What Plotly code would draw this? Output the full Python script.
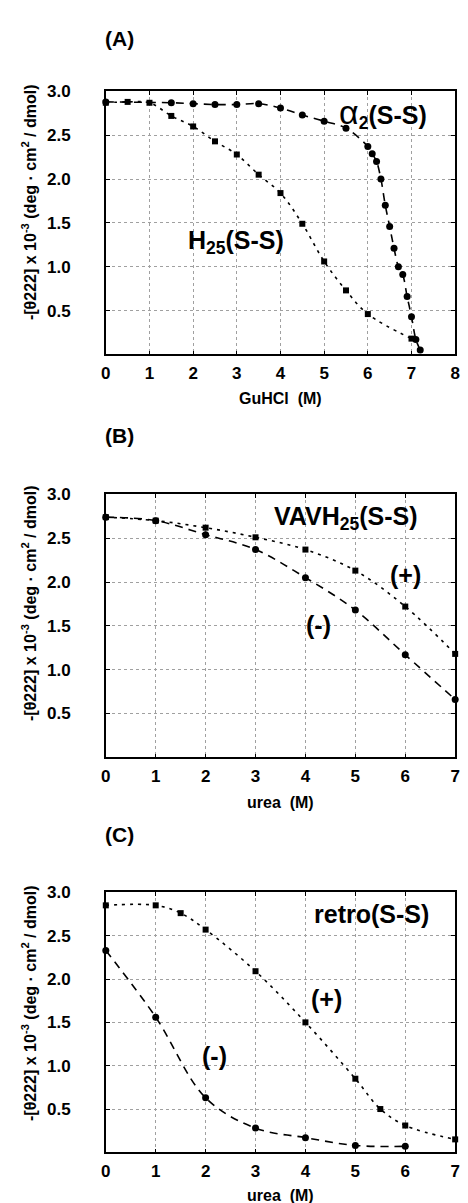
import plotly.graph_objects as go

W, H = 468, 1203

# ---------------- data ----------------
# Panel A : GuHCl denaturation
a_alpha_x = [0, 1.5, 2.0, 2.5, 3.0, 3.5, 4.0, 4.5, 5.0, 5.5, 6.0, 6.1, 6.2, 6.3, 6.4,
             6.5, 6.6, 6.7, 6.8, 6.9, 7.0, 7.1, 7.2]
a_alpha_y = [2.88, 2.87, 2.86, 2.85, 2.85, 2.86, 2.81, 2.73, 2.66, 2.58, 2.37, 2.29, 2.20,
             2.00, 1.70, 1.46, 1.21, 1.00, 0.91, 0.66, 0.43, 0.17, 0.05]
a_h25_x = [0, 0.5, 1.0, 1.5, 2.0, 2.5, 3.0, 3.5, 4.0, 4.5, 5.0, 5.5, 6.0, 7.0]
a_h25_y = [2.87, 2.88, 2.87, 2.72, 2.60, 2.43, 2.28, 2.05, 1.84, 1.49, 1.06, 0.73, 0.46, 0.18]

# Panel B : VAVH25(S-S) in urea
b_minus_x = [0, 1, 2, 3, 4, 5, 6, 7]
b_minus_y = [2.74, 2.70, 2.54, 2.37, 2.05, 1.68, 1.17, 0.66]
b_plus_x = [0, 1, 2, 3, 4, 5, 6, 7]
b_plus_y = [2.74, 2.70, 2.62, 2.51, 2.37, 2.13, 1.72, 1.18]

# Panel C : retro(S-S) in urea
c_plus_x = [0, 1, 1.5, 2, 3, 4, 5, 5.5, 6, 7]
c_plus_y = [2.85, 2.85, 2.76, 2.57, 2.09, 1.50, 0.85, 0.50, 0.31, 0.15]
c_minus_x = [0, 1, 2, 3, 4, 5, 6]
c_minus_y = [2.33, 1.56, 0.63, 0.28, 0.17, 0.08, 0.07]

y_ticks = [0.5, 1.0, 1.5, 2.0, 2.5, 3.0]
y_ticktext = ["0.5", "1.0", "1.5", "2.0", "2.5", "3.0"]
xa_ticks = [0, 1, 2, 3, 4, 5, 6, 7, 8]
xu_ticks = [0, 1, 2, 3, 4, 5, 6, 7]

ytitle = "-[θ222] x 10<sup>-3</sup> (deg · cm<sup>2</sup> / dmol)"

FONT = "Liberation Sans, Arial, Helvetica, sans-serif"

# ---------------- geometry (pixels) ----------------
def px_x(p):
    return p / W

def px_y(p):
    return 1 - p / H

panels = [
    dict(top=83, bottom=348),
    dict(top=489, bottom=754),
    dict(top=890, bottom=1152),
]
x_dom = [px_x(103), px_x(460)]

fig = go.Figure()

DASH = "8px,6px"
DOT = "3px,5px"


def add_series(xs, ys, axis, symbol, size, dash):
    fig.add_trace(go.Scatter(
        x=xs, y=ys, xaxis="x" + axis, yaxis="y" + axis,
        mode="lines+markers",
        line=dict(color="black", width=1.6, dash=dash, shape="spline", smoothing=1.0),
        marker=dict(symbol=symbol, size=size, color="black"),
        cliponaxis=False, showlegend=False, hoverinfo="skip",
    ))


add_series(a_h25_x, a_h25_y, "", "square", 6, DOT)
add_series(a_alpha_x, a_alpha_y, "", "circle", 7, DASH)
add_series(b_plus_x, b_plus_y, "2", "square", 6, DOT)
add_series(b_minus_x, b_minus_y, "2", "circle", 7, DASH)
add_series(c_plus_x, c_plus_y, "3", "square", 6, DOT)
add_series(c_minus_x, c_minus_y, "3", "circle", 7, DASH)

axis_common = dict(
    showline=True, linecolor="black", linewidth=1.5, mirror="ticks",
    ticks="inside", ticklen=4, tickwidth=1, tickcolor="black",
    showgrid=True, gridcolor="#a0a0a0", gridwidth=1, griddash="dot",
    zeroline=False,
    tickfont=dict(family=FONT, size=17, color="black", weight="bold"),
)

layout = dict(
    width=W, height=H,
    margin=dict(l=0, r=0, t=0, b=0),
    paper_bgcolor="white", plot_bgcolor="white",
    font=dict(family=FONT, color="black"),
    showlegend=False,
)

names = ["", "2", "3"]
xranges = [[0, 8], [0, 7], [0, 7]]
xticks = [xa_ticks, xu_ticks, xu_ticks]
for i, p in enumerate(panels):
    n = names[i]
    layout["xaxis" + n] = dict(
        axis_common, domain=x_dom, range=xranges[i], anchor="y" + n,
        tickvals=xticks[i], ticktext=[str(v) for v in xticks[i]],
        ticklabelstandoff=2,
    )
    layout["yaxis" + n] = dict(
        axis_common, domain=[px_y(p["bottom"]), px_y(p["top"])], range=[0, 3.0],
        anchor="x" + n, tickvals=y_ticks, ticktext=y_ticktext,
        ticklabelstandoff=30,
    )

fig.update_layout(**layout)


def bold(size):
    return dict(family=FONT, size=size, color="black", weight="bold")


ann = []
# panel labels
for lab, yc in [("(A)", 30), ("(B)", 430), ("(C)", 832)]:
    ann.append(dict(text=lab, xref="paper", yref="paper",
                    x=px_x(100), y=px_y(yc), xanchor="left", yanchor="middle",
                    showarrow=False, font=bold(21)))
# y titles
for yc in [194, 598, 1001]:
    ann.append(dict(text=ytitle, xref="paper", yref="paper",
                    x=px_x(24), y=px_y(yc), xanchor="center", yanchor="middle",
                    textangle=-90, showarrow=False, font=bold(16)))
# x titles
for t, yc in [("GuHCl  (M)", 392), ("urea  (M)", 799), ("urea  (M)", 1195)]:
    ann.append(dict(text=t.replace("  ", "&nbsp;&nbsp;"), xref="paper", yref="paper",
                    x=px_x(282), y=px_y(yc), xanchor="center", yanchor="middle",
                    showarrow=False, font=bold(16)))

# in-plot labels
inner = [
    ("<span style='font-size:34px;font-weight:normal'>α</span><sub>2</sub>(S-S)", "x", "y", 6.35, 2.75),
    ("H<sub>25</sub>(S-S)", "x", "y", 2.99, 1.28),
    ("VAVH<sub>25</sub>(S-S)", "x2", "y2", 4.82, 2.73),
    ("(+)", "x2", "y2", 6.0, 2.08),
    ("(-)", "x2", "y2", 4.27, 1.51),
    ("retro(S-S)", "x3", "y3", 5.32, 2.75),
    ("(+)", "x3", "y3", 4.43, 1.77),
    ("(-)", "x3", "y3", 2.18, 1.11),
]
for t, xr, yr, xv, yv in inner:
    ann.append(dict(text=t, xref=xr, yref=yr, x=xv, y=yv,
                    xanchor="center", yanchor="middle", showarrow=False,
                    font=bold(25)))

fig.update_layout(annotations=ann)
fig.write_html("out.html", config={"displayModeBar": False},
               post_script="document.body.style.margin='0';document.body.style.padding='0';")
